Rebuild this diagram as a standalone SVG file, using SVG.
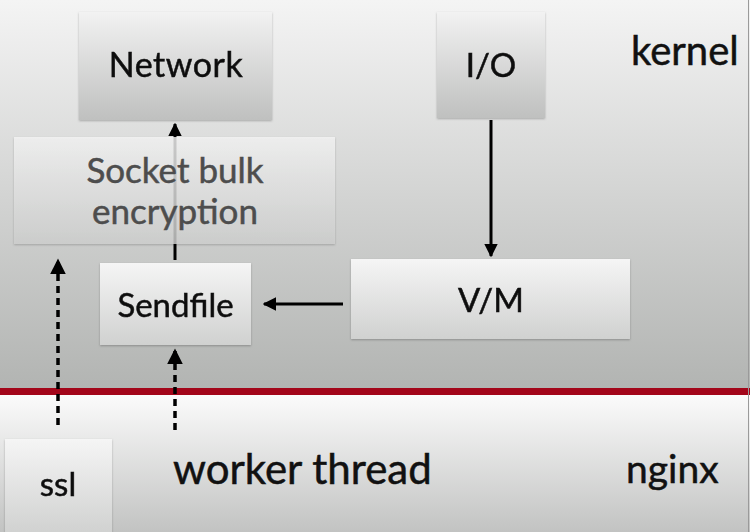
<svg xmlns="http://www.w3.org/2000/svg" width="750" height="532" viewBox="0 0 750 532">
<defs>
<linearGradient id="bgTop" x1="0" y1="0" x2="0" y2="1">
<stop offset="0" stop-color="#f4f4f4"/>
<stop offset="1" stop-color="#b2b4b2"/>
</linearGradient>
<linearGradient id="bgBot" x1="0" y1="0" x2="0" y2="1">
<stop offset="0" stop-color="#fbfbfb"/>
<stop offset="1" stop-color="#c2c3c2"/>
</linearGradient>
<linearGradient id="boxG" x1="0" y1="0" x2="0" y2="1">
<stop offset="0" stop-color="#f2f2f2"/>
<stop offset="1" stop-color="#bfc0bf"/>
</linearGradient>
<linearGradient id="boxL" x1="0" y1="0" x2="0" y2="1">
<stop offset="0" stop-color="#f5f5f5"/>
<stop offset="1" stop-color="#d0d1d0"/>
</linearGradient>
<marker id="ah" viewBox="0 0 10 10" refX="9" refY="5" markerWidth="4.5" markerHeight="4.5" orient="auto" markerUnits="strokeWidth">
<path d="M0,0 L10,5 L0,10 z" fill="#000"/>
</marker>
<filter id="sh" x="-5%" y="-5%" width="110%" height="115%">
<feDropShadow dx="0" dy="1" stdDeviation="1" flood-color="#000" flood-opacity="0.25"/>
</filter>
</defs>
<style>
.t{font-family:"Lato","Open Sans","DejaVu Sans",sans-serif;fill:#111;stroke:#111;stroke-width:0.5;}
.g{fill:#4d4d4d;stroke:#4d4d4d;}
.box{filter:url(#sh);}
.ln{stroke:#000;stroke-width:3;fill:none;}
.dot{stroke:#000;stroke-width:3.5;fill:none;stroke-dasharray:7 5;}
</style>
<rect x="0" y="0" width="750" height="389" fill="url(#bgTop)"/>
<rect x="0" y="395" width="750" height="137" fill="url(#bgBot)"/>
<rect x="0" y="388" width="750" height="7" fill="#a3061a"/>
<line x1="748.5" y1="0" x2="748.5" y2="532" stroke="#9a9a9a" stroke-width="1"/>

<g id="connectors">
<line class="ln" x1="175" y1="260" x2="175" y2="124" marker-end="url(#ah)"/>
<line class="ln" x1="491" y1="120" x2="491" y2="256" marker-end="url(#ah)"/>
<line class="ln" x1="343" y1="304" x2="264" y2="304" marker-end="url(#ah)"/>
<line class="dot" x1="58" y1="425" x2="58" y2="260" marker-end="url(#ah)"/>
<line class="dot" x1="175" y1="430" x2="175" y2="350" marker-end="url(#ah)"/>
</g>

<g id="network" class="box">
<rect x="79" y="12" width="193" height="108" fill="url(#boxG)"/>
<text class="t" x="176" y="77" font-size="34" text-anchor="middle" letter-spacing="0.5">Network</text>
</g>
<g id="socket">
<rect x="14" y="137" width="321" height="107" fill="url(#boxL)" fill-opacity="0.8" filter="url(#sh)"/>
<text class="t g" x="175" y="183" font-size="35" text-anchor="middle">Socket bulk</text>
<text class="t g" x="175" y="224" font-size="35" text-anchor="middle">encryption</text>
</g>
<g id="io" class="box">
<rect x="437" y="12" width="108" height="106" fill="url(#boxG)"/>
<text class="t" x="491" y="77" font-size="33" text-anchor="middle">I/O</text>
</g>
<g id="vm" class="box">
<rect x="351" y="259" width="279" height="80" fill="url(#boxL)"/>
<text class="t" x="491" y="312" font-size="33" text-anchor="middle">V/M</text>
</g>
<g id="sendfile" class="box">
<rect x="100" y="263" width="151" height="82" fill="url(#boxL)"/>
<text class="t" x="175.5" y="317" font-size="33" text-anchor="middle">Sendfile</text>
</g>
<g id="ssl" class="box">
<rect x="5" y="439" width="107" height="95" fill="url(#boxL)"/>
<text class="t" x="58" y="496" font-size="33" text-anchor="middle">ssl</text>
</g>
<g id="labels">
<text class="t" x="631" y="65" font-size="40">kernel</text>
<text class="t" x="173" y="484" font-size="42">worker thread</text>
<text class="t" x="626" y="483" font-size="39">nginx</text>
</g>
</svg>
